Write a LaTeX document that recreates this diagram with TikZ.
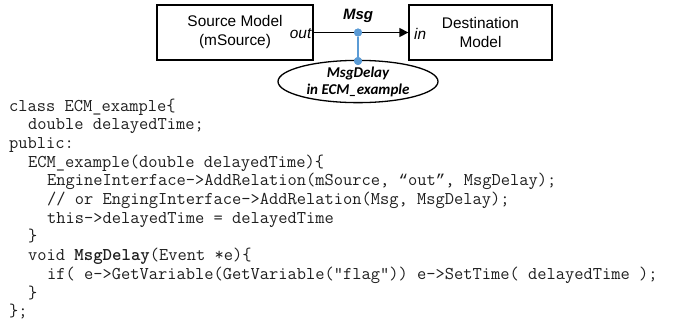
\documentclass[tikz,border=0pt]{standalone}
\usepackage{fontspec}
\setmainfont{Liberation Sans}
\newfontfamily\calibfont{Carlito}
\newfontfamily\quotefont{Liberation Mono}
\usetikzlibrary{shapes.geometric,arrows.meta}
\definecolor{tapblue}{RGB}{91,155,213}
\definecolor{codeink}{RGB}{30,30,30}

% curly quotes taken from a mono font whose cell matches the listing's cell
\newcommand{\codelq}{{\quotefont\fontsize{15.7}{18.7}\selectfont “}}
\newcommand{\coderq}{{\quotefont\fontsize{15.7}{18.7}\selectfont ”}}

\tikzset{
  modelbox/.style={draw=black, line width=1.3pt, align=center, inner sep=0pt,
    font=\fontsize{15.4}{19}\selectfont},
  portlabel/.style={inner sep=0pt, font=\itshape\fontsize{15.4}{19}\selectfont},
  msglabel/.style={inner sep=0pt, font=\bfseries\itshape\fontsize{15}{18}\selectfont},
  tapdot/.style={circle, fill=tapblue, inner sep=0pt, minimum size=8pt},
  tapline/.style={draw=tapblue, line width=1.6pt},
  relation/.style={draw=black, line width=1.3pt, -{Triangle[length=9pt,width=9pt]}},
  handler/.style={ellipse, draw=black, line width=1.3pt, fill=white, align=center,
    inner sep=0pt, font=\calibfont\bfseries\itshape\fontsize{15}{17}\selectfont},
  codeline/.style={anchor=base west, inner sep=0pt, text=codeink,
    font=\ttfamily\fontsize{17.96}{18.7}\selectfont}
}

\begin{document}
\begin{tikzpicture}[x=1pt, y=-1pt]
\useasboundingbox (0,0) rectangle (674,325);

% models and the relation between them
\node[modelbox, minimum width=156pt, minimum height=55pt] (src) at (235,32.5)
  {Source Model\\(mSource)};
\node[modelbox, minimum width=143pt, minimum height=55pt] (dst) at (480.5,32.5)
  {Destination\\Model};
\draw[relation] (src.east) -- (dst.west);

\node[portlabel, anchor=east] (outp) at (311.5,33.5) {out};
\node[portlabel, anchor=west] (inp) at (414,33.5) {in};
\node[msglabel] (msg) at (358,16) {Msg};

% event handler attached to the relation
\node[handler, minimum width=160pt, minimum height=37pt] (delay) at (358,81.5)
  {MsgDelay\\in ECM\_example};
\node[tapdot] (taptop) at (358,32.5) {};
\node[tapdot] (tapbot) at (358,61) {};
\draw[tapline] (taptop) -- (tapbot);
\node[tapdot] at (taptop) {};
\node[tapdot] at (tapbot) {};

% source code listing
\node[codeline] (c0)  at (9, 111.0)  {class ECM\_example\{};
\node[codeline] (c1)  at (28,129.7)  {double delayedTime;};
\node[codeline] (c2)  at (9, 148.4)  {public:};
\node[codeline] (c3)  at (28,167.1)  {ECM\_example(double delayedTime)\{};
\node[codeline] (c4)  at (47,185.8)  {EngineInterface->AddRelation(mSource, \codelq out\coderq, MsgDelay);};
\node[codeline] (c5)  at (47,204.5)  {// or EngingInterface->AddRelation(Msg, MsgDelay);};
\node[codeline] (c6)  at (47,223.2)  {this->delayedTime = delayedTime};
\node[codeline] (c7)  at (28,241.9)  {\}};
\node[codeline] (c8)  at (28,260.6)  {void \textbf{MsgDelay}(Event *e)\{};
\node[codeline] (c9)  at (47,279.3)  {if( e->GetVariable(GetVariable("flag")) e->SetTime( delayedTime );};
\node[codeline] (c10) at (28,298.0)  {\}};
\node[codeline] (c11) at (9, 316.7)  {\};};
\end{tikzpicture}
\end{document}
